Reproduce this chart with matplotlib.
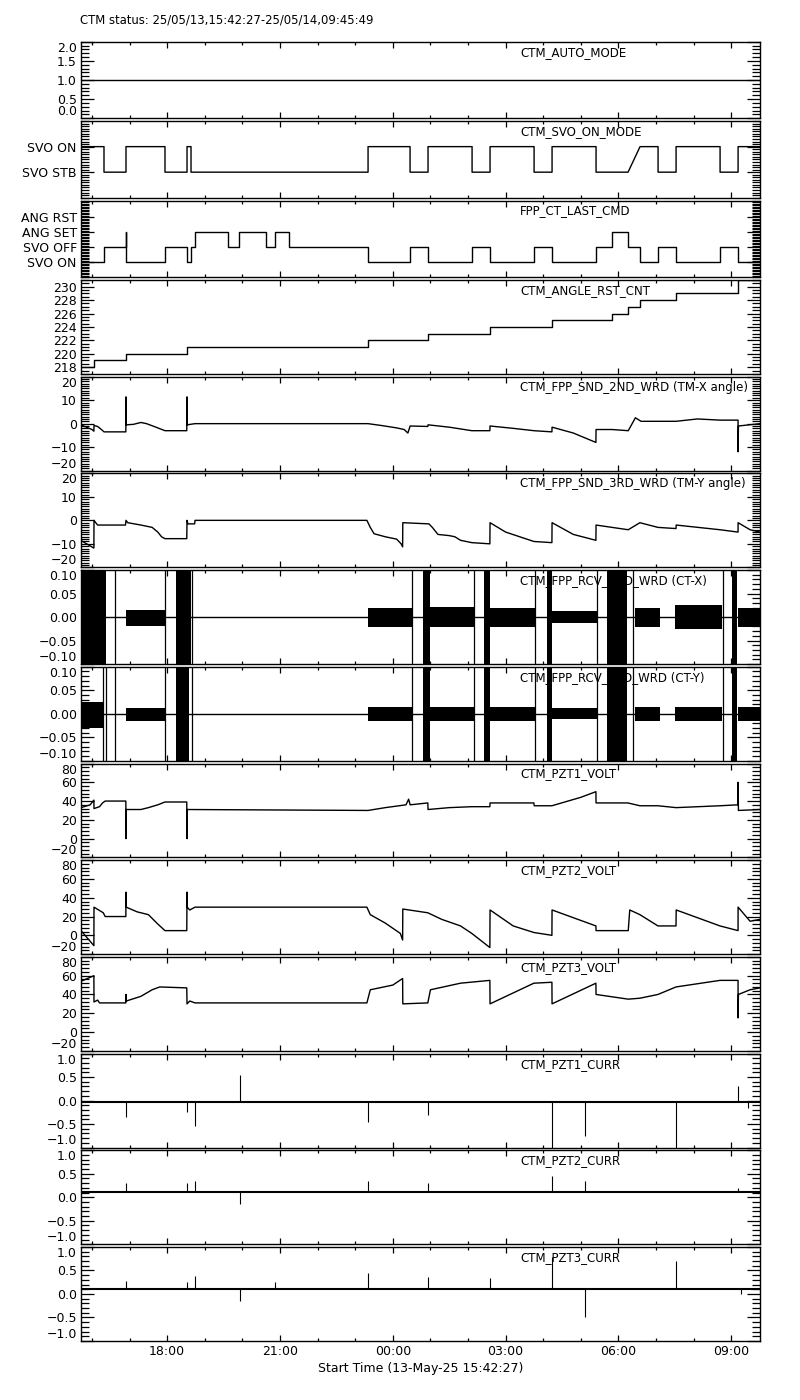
import matplotlib
matplotlib.use("Agg")
import matplotlib.pyplot as plt
from matplotlib.ticker import MultipleLocator, FixedLocator, FixedFormatter, NullFormatter, FuncFormatter

# time axis in hours since 13-May-25 00:00
t_start = 15 + 42 / 60 + 27 / 3600
t_end = 33 + 45 / 60 + 49 / 3600
hour_ticks = [18, 21, 24, 27, 30, 33]
hour_labels = ["18:00", "21:00", "00:00", "03:00", "06:00", "09:00"]

title = "CTM status: 25/05/13,15:42:27-25/05/14,09:45:49"
xlabel = "Start Time (13-May-25 15:42:27)"

# ---- step channels
auto_mode = [(t_start, 1.0)]
# polyline vertices (time, state), SVO ON = 1, SVO STB = 0
svo_on_mode = [(t_start, 1), (16.319, 1), (16.319, 0), (16.904, 0), (16.904, 1), (17.941, 1), (17.941, 0),
               (18.527, 0), (18.527, 1), (18.633, 1), (18.633, 0), (23.341, 0), (23.341, 1), (24.458, 1),
               (24.458, 0), (24.936, 0), (24.936, 1), (26.107, 1), (26.107, 0), (26.585, 0), (26.585, 1),
               (27.756, 1), (27.756, 0), (28.234, 0), (28.234, 1), (29.404, 1), (29.404, 0), (30.255, 0),
               (30.574, 1), (31.053, 1), (31.053, 0), (31.532, 0), (31.532, 1), (32.702, 1), (32.702, 0),
               (33.181, 0), (33.181, 1), (t_end, 1)]
# (time of change, new level): SVO ON = 0, SVO OFF = 1, ANG SET = 2, ANG RST = 3
last_cmd = [(t_start, 0), (16.319, 1), (16.904, 2), (16.917, 0), (17.941, 1), (18.527, 0), (18.633, 1),
            (18.739, 2), (19.617, 1), (19.910, 2), (20.628, 1), (20.867, 2), (21.239, 1), (23.341, 0),
            (24.458, 1), (24.936, 0), (26.107, 1), (26.585, 0), (27.756, 1), (28.234, 0), (29.404, 1),
            (29.830, 2), (30.255, 1), (30.574, 0), (31.053, 1), (31.532, 0), (32.702, 1), (33.181, 0)]
angle_rst_cnt = [(t_start, 218), (16.053, 219), (16.904, 220), (18.527, 221), (23.341, 222), (24.936, 223),
                 (26.585, 224), (28.234, 225), (29.830, 226), (30.255, 227), (30.574, 228), (31.532, 229),
                 (33.181, 231)]

# ---- analog channels: polyline vertices (time, value)
tm_x = [(t_start, -0.5), (15.85, -1.5), (16.0, -2.5), (16.05, -3.2), (16.053, -0.8), (16.15, -1.2),
        (16.25, -2.5), (16.32, -3.5), (16.90, -3.5), (16.904, 11.4), (16.91, -0.5), (17.1, -0.3),
        (17.3, 0.5), (17.45, 0), (17.7, -1.5), (17.94, -3), (18.52, -3), (18.527, 11.4), (18.53, -0.5),
        (18.74, 0), (23.34, 0), (23.7, -0.8), (24.1, -1.8), (24.3, -2.5), (24.4, -4), (24.46, -1),
        (24.93, -1.2), (24.936, -0.5), (25.5, -1.5), (26.1, -3), (26.58, -3), (26.585, -1), (27.2, -2),
        (27.75, -3), (28.23, -3.5), (28.234, -1.5), (28.8, -4), (29.4, -8), (29.404, -2.5), (29.83, -2.5),
        (30.26, -3), (30.45, 2.5), (30.6, 1), (31.05, 1), (31.53, 1), (32.1, 2), (32.7, 1.5), (33.18, 1.5),
        (33.181, -12), (33.19, -1), (t_end, 0)]
tm_y = [(t_start, -8.6), (16.05, -11.8), (16.053, 0), (16.1, -1), (16.15, -2), (16.89, -2), (16.904, 0),
        (16.95, -1), (17.3, -2), (17.6, -3), (17.75, -5), (17.85, -7), (17.94, -7.8), (18.52, -7.8),
        (18.527, 0), (18.55, -1.5), (18.73, -1.5), (18.739, 0), (23.31, 0), (23.4, -3), (23.5, -5.7),
        (23.8, -7), (24.1, -8), (24.22, -10), (24.26, -11.3), (24.265, -1), (24.96, -1.5), (25.05, -3),
        (25.2, -6), (25.5, -6.5), (25.65, -7), (25.8, -8.5), (26.1, -9.5), (26.58, -10), (26.585, -1),
        (27.0, -5), (27.75, -9), (28.23, -9.5), (28.234, -1), (28.8, -6), (29.4, -8.5), (29.404, -2),
        (29.83, -3), (30.26, -4), (30.57, -1), (31.05, -3), (31.53, -3.5), (31.535, -2), (32.7, -4),
        (33.18, -5), (33.181, -1), (33.5, -4), (t_end, -5)]
pzt1_volt = [(t_start, 33), (15.95, 36), (16.05, 41), (16.053, 32), (16.2, 34), (16.28, 38), (16.35, 40),
             (16.90, 40), (16.904, 0), (16.91, 31), (17.3, 31), (17.5, 33), (17.75, 36), (17.94, 39),
             (18.52, 39), (18.527, 0), (18.53, 31), (23.34, 30), (23.8, 33), (24.35, 36), (24.42, 42),
             (24.46, 36), (24.93, 38), (24.936, 31), (25.5, 33), (26.1, 34), (26.58, 34), (26.585, 38),
             (27.75, 38), (27.76, 35), (28.23, 35), (29.0, 44), (29.4, 50), (29.404, 38), (30.25, 38),
             (30.57, 35), (31.05, 35), (31.53, 33), (32.7, 35), (33.18, 36), (33.181, 60), (33.19, 30),
             (t_end, 31)]
pzt2_volt = [(t_start, 5), (16.05, -11), (16.053, 30), (16.3, 24), (16.35, 20), (16.90, 20), (16.904, 46),
             (16.91, 30), (17.2, 25), (17.5, 22), (17.75, 12), (17.94, 5), (18.52, 5), (18.527, 46),
             (18.53, 30), (18.6, 27), (18.74, 30), (23.31, 30), (23.4, 22), (23.8, 13), (24.2, 2),
             (24.26, -5), (24.265, 28), (24.93, 24), (25.3, 17), (25.8, 10), (26.1, 2), (26.58, -13),
             (26.585, 27), (27.2, 10), (27.75, 3), (28.23, 0), (28.234, 27), (29.4, 10), (29.404, 5),
             (30.26, 5), (30.3, 27), (30.57, 22), (31.05, 10), (31.53, 10), (31.535, 27), (32.7, 10),
             (33.18, 5), (33.181, 30), (33.5, 15), (t_end, 17)]
pzt3_volt = [(t_start, 54), (16.05, 60), (16.053, 32), (16.15, 34), (16.2, 31), (16.90, 31), (16.904, 40),
             (16.91, 33), (17.3, 38), (17.6, 45), (17.8, 48), (18.52, 47), (18.527, 30), (18.6, 33),
             (18.74, 31), (23.31, 31), (23.4, 45), (24.0, 50), (24.26, 57), (24.265, 30), (24.93, 31),
             (25.0, 45), (25.8, 52), (26.58, 55), (26.585, 30), (27.75, 52), (28.23, 53), (28.234, 30),
             (29.4, 52), (29.404, 40), (30.26, 35), (30.57, 36), (31.05, 40), (31.53, 48), (32.7, 55),
             (33.18, 55), (33.181, 15), (33.19, 40), (33.5, 45), (t_end, 47)]

# ---- noisy angle words: noise bands (start, end, low, high), full-height lines, solid blocks
rcv2_bands = [(15.708, 16.29, -0.1, 0.1), (16.904, 17.941, -0.018, 0.015), (23.34, 24.51, -0.022, 0.02),
              (24.99, 26.16, -0.022, 0.022), (26.59, 27.78, -0.022, 0.02), (28.23, 29.43, -0.012, 0.012),
              (30.44, 31.11, -0.022, 0.02), (31.51, 32.76, -0.025, 0.025), (33.18, t_end, -0.022, 0.02)]
rcv2_lines = [16.612, 17.941, 18.65, 24.51, 26.16, 27.78, 29.43, 30.39, 32.78]
rcv2_blocks = [(16.293, 16.372), (18.234, 18.62), (24.80, 24.99), (26.43, 26.59), (28.10, 28.23),
               (29.70, 30.23), (33.02, 33.16)]
rcv3_bands = [(15.708, 16.29, -0.03, 0.025), (16.904, 17.941, -0.015, 0.012), (23.34, 24.51, -0.015, 0.015),
              (24.99, 26.16, -0.015, 0.015), (26.59, 27.78, -0.015, 0.015), (28.23, 29.43, -0.012, 0.012),
              (30.44, 31.11, -0.015, 0.015), (31.51, 32.76, -0.015, 0.015), (33.18, t_end, -0.015, 0.015)]
rcv3_lines = [16.29, 16.372, 16.612, 17.941, 18.65, 24.51, 26.16, 27.78, 29.43, 30.39, 32.78]
rcv3_blocks = [(18.234, 18.58), (24.80, 24.99), (26.43, 26.59), (28.10, 28.23), (29.70, 30.23), (33.02, 33.16)]

# ---- PZT currents: baseline and spikes (time, peak)
pzt1_curr_base = -0.03
pzt1_curr_spikes = [(16.904, -0.35), (18.527, -0.25), (18.739, -0.55), (19.93, 0.55), (23.341, -0.45),
                    (24.936, -0.3), (28.234, -1.0), (29.1, -0.75), (31.532, -1.0), (33.181, 0.3),
                    (33.45, -0.15)]
pzt2_curr_base = 0.12
pzt2_curr_spikes = [(16.904, 0.3), (18.527, 0.3), (18.739, 0.35), (19.93, -0.15), (23.341, 0.35),
                    (24.936, 0.3), (28.234, 0.45), (29.1, 0.35), (33.181, 0.2)]
pzt3_curr_base = 0.11
pzt3_curr_spikes = [(16.904, 0.27), (18.527, 0.25), (18.739, 0.38), (19.93, -0.14), (20.87, 0.25),
                    (23.341, 0.45), (24.936, 0.36), (26.585, 0.33), (28.234, 0.78), (29.1, -0.5),
                    (31.532, 0.71), (33.25, 0.0)]

# ---- panel set-up: name, y range, major step, minor step, tick format or state names
panels = [
    ("CTM_AUTO_MODE", (0, 2), 0.5, 0.1, "{:.1f}"),
    ("CTM_SVO_ON_MODE", (-1, 2), 1, 0.1, {0: "SVO STB", 1: "SVO ON"}),
    ("FPP_CT_LAST_CMD", (-1, 4.1), 1, 0.1, {0: "SVO ON", 1: "SVO OFF", 2: "ANG SET", 3: "ANG RST"}),
    ("CTM_ANGLE_RST_CNT", (217, 231), 2, 0.5, "{:.0f}"),
    ("CTM_FPP_SND_2ND_WRD (TM-X angle)", (-20, 20), 10, 1, "{:.0f}"),
    ("CTM_FPP_SND_3RD_WRD (TM-Y angle)", (-20, 20), 10, 1, "{:.0f}"),
    ("CTM_FPP_RCV_2ND_WRD (CT-X)", (-0.1, 0.1), 0.05, 0.01, "{:.2f}"),
    ("CTM_FPP_RCV_3RD_WRD (CT-Y)", (-0.1, 0.1), 0.05, 0.01, "{:.2f}"),
    ("CTM_PZT1_VOLT", (-20, 80), 20, 4, "{:.0f}"),
    ("CTM_PZT2_VOLT", (-20, 80), 20, 4, "{:.0f}"),
    ("CTM_PZT3_VOLT", (-20, 80), 20, 4, "{:.0f}"),
    ("CTM_PZT1_CURR", (-1, 1), 0.5, 0.1, "{:.1f}"),
    ("CTM_PZT2_CURR", (-1, 1), 0.5, 0.1, "{:.1f}"),
    ("CTM_PZT3_CURR", (-1, 1), 0.5, 0.1, "{:.1f}"),
]


def steps(changes):
    xs, ys = [], []
    for i, (t, v) in enumerate(changes):
        t_next = changes[i + 1][0] if i + 1 < len(changes) else t_end
        xs += [t, t_next]
        ys += [v, v]
    return xs, ys


def polyline(points):
    xs, ys = zip(*points)
    return list(xs), list(ys)


def draw_noise(ax, bands, lines, blocks):
    for t0, t1, lo, hi in bands:
        ax.fill_between([t0, t1], [lo, lo], [hi, hi], color="k", lw=0)
    ax.vlines(lines, -0.1, 0.1, color="k", lw=0.9)
    for t0, t1 in blocks:
        ax.axvspan(t0, t1, color="k", lw=0)


def draw_curr(ax, base, spikes):
    ax.plot([t_start, t_end], [base, base], color="k", lw=1.5)
    ts, peaks = zip(*spikes)
    ax.vlines(ts, base, peaks, color="k", lw=0.8)


def fmt_func(fmt):
    return FuncFormatter(lambda v, pos: fmt.format(v).replace("-", "\u2212"))


W, H = 800, 1400
fig = plt.figure(figsize=(W / 100, H / 100), dpi=100)
left, right = 81, 760
tops = [41.7 + 79.4 * i for i in range(3)] + [280 + 96.7 * i for i in range(11)]
heights = [76.6] * 3 + [93.9] * 11

axes = []
for i, (name, ylim, major, minor, fmt) in enumerate(panels):
    ax = fig.add_axes([left / W, 1 - (tops[i] + heights[i]) / H, (right - left) / W, heights[i] / H])
    ax.minorticks_on()
    ax.set_xlim(t_start, t_end)
    ax.set_ylim(*ylim)
    ax.xaxis.set_major_locator(FixedLocator(hour_ticks))
    ax.xaxis.set_minor_locator(MultipleLocator(1))
    if i == len(panels) - 1:
        ax.xaxis.set_major_formatter(FixedFormatter(hour_labels))
        ax.set_xlabel(xlabel, fontsize=9, labelpad=3)
    else:
        ax.xaxis.set_major_formatter(NullFormatter())
    if isinstance(fmt, dict):
        ax.yaxis.set_major_locator(FixedLocator(list(fmt)))
        ax.yaxis.set_major_formatter(FixedFormatter(list(fmt.values())))
    else:
        ax.yaxis.set_major_locator(MultipleLocator(major))
        ax.yaxis.set_major_formatter(fmt_func(fmt))
    ax.yaxis.set_minor_locator(MultipleLocator(minor))
    ax.tick_params(which="both", direction="in", top=True, right=True, width=0.9, labelsize=9, pad=3)
    ax.tick_params(axis="x", which="major", length=4.2)
    ax.tick_params(axis="x", which="minor", length=2.5)
    ax.tick_params(axis="y", which="major", length=9.4)
    ax.tick_params(axis="y", which="minor", length=5.5)
    for s in ax.spines.values():
        s.set_linewidth(1.0)
    fig.text(520 / W, 1 - (tops[i] + 4) / H, name, fontsize=8.5, va="top", ha="left")
    axes.append(ax)

ax_auto, ax_svo, ax_cmd, ax_rst, ax_tmx, ax_tmy, ax_ctx, ax_cty, ax_p1, ax_p2, ax_p3, ax_c1, ax_c2, ax_c3 = axes

line_kw = dict(color="k", lw=1.0)
ax_auto.plot(*steps(auto_mode), **line_kw)
ax_svo.plot(*polyline(svo_on_mode), **line_kw)
ax_cmd.plot(*steps(last_cmd), **line_kw)
ax_rst.plot(*steps(angle_rst_cnt), **line_kw)
ax_tmx.plot(*polyline(tm_x), **line_kw)
ax_tmy.plot(*polyline(tm_y), **line_kw)

for ax, bands, lines, blocks in [(ax_ctx, rcv2_bands, rcv2_lines, rcv2_blocks),
                                 (ax_cty, rcv3_bands, rcv3_lines, rcv3_blocks)]:
    ax.axhline(0, **line_kw)
    draw_noise(ax, bands, lines, blocks)

ax_p1.plot(*polyline(pzt1_volt), **line_kw)
ax_p2.plot(*polyline(pzt2_volt), **line_kw)
ax_p3.plot(*polyline(pzt3_volt), **line_kw)

draw_curr(ax_c1, pzt1_curr_base, pzt1_curr_spikes)
draw_curr(ax_c2, pzt2_curr_base, pzt2_curr_spikes)
draw_curr(ax_c3, pzt3_curr_base, pzt3_curr_spikes)

fig.text(80 / W, 1 - 20 / H, title, fontsize=8.4, va="center", ha="left")

# labels sitting on the frame are pushed inside the panel, as in the original plot
fig.canvas.draw()
for ax, (name, ylim, major, minor, fmt) in zip(axes, panels):
    for lab in ax.yaxis.get_ticklabels():
        y = lab.get_position()[1]
        if abs(y - ylim[1]) < 1e-9:
            lab.set_verticalalignment("top")
        elif abs(y - ylim[0]) < 1e-9:
            lab.set_verticalalignment("bottom")

fig.savefig("out.png", dpi=100)
